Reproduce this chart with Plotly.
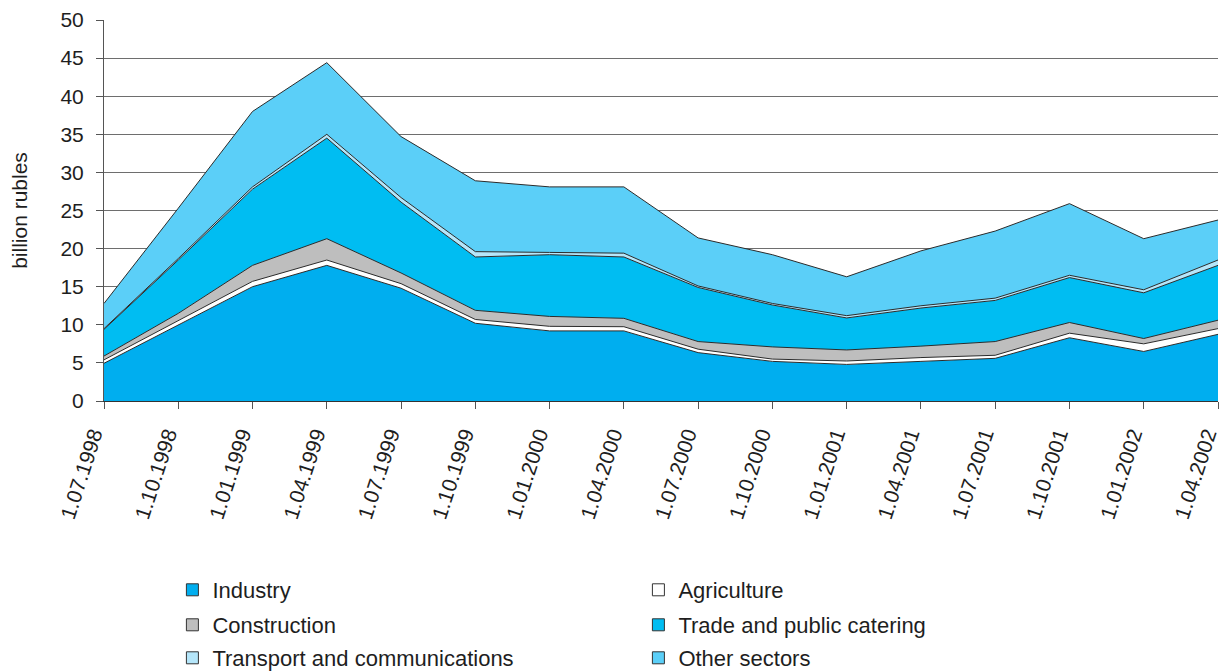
import plotly.graph_objects as go

dates = ["1.07.1998", "1.10.1998", "1.01.1999", "1.04.1999", "1.07.1999", "1.10.1999",
         "1.01.2000", "1.04.2000", "1.07.2000", "1.10.2000", "1.01.2001", "1.04.2001",
         "1.07.2001", "1.10.2001", "1.01.2002", "1.04.2002"]

industry = [4.95, 10.0, 15.0, 17.8, 14.8, 10.2, 9.2, 9.2, 6.35, 5.2, 4.8, 5.2, 5.6, 8.3, 6.5, 8.75]
agriculture = [0.45, 0.5, 0.7, 0.7, 0.6, 0.5, 0.6, 0.55, 0.45, 0.3, 0.45, 0.5, 0.4, 0.6, 1.0, 0.75]
construction = [0.5, 1.0, 2.1, 2.8, 1.4, 1.2, 1.3, 1.1, 1.0, 1.6, 1.45, 1.5, 1.8, 1.4, 0.7, 1.1]
trade = [3.5, 7.0, 10.0, 13.2, 9.3, 7.0, 8.1, 8.05, 7.1, 5.5, 4.2, 5.0, 5.4, 5.9, 6.0, 7.2]
transport = [0.1, 0.2, 0.3, 0.5, 0.6, 0.7, 0.3, 0.5, 0.2, 0.2, 0.3, 0.3, 0.3, 0.3, 0.4, 0.7]
other = [3.3, 6.6, 9.9, 9.4, 8.0, 9.3, 8.6, 8.7, 6.3, 6.4, 5.1, 7.2, 8.8, 9.4, 6.7, 5.25]

series = [
    ("Industry", industry, "#00AEEF", "legend"),
    ("Agriculture", agriculture, "#FFFFFF", "legend"),
    ("Construction", construction, "#BEBEBE", "legend2"),
    ("Trade and public catering", trade, "#00BDF2", "legend2"),
    ("Transport and communications", transport, "#B5E6FA", "legend3"),
    ("Other sectors", other, "#5BCFF8", "legend3"),
]

FONT = "Liberation Sans, Arial, sans-serif"
TXT = "#1e1e1e"
W, H = 1221, 664  # page body adds an 8 px offset

fig = go.Figure()
for name, vals, color, lg in series:
    fig.add_trace(go.Scatter(
        x=dates, y=vals, name=name, mode="lines", stackgroup="one",
        line=dict(color="#2b2b2b", width=1), fillcolor=color,
        showlegend=False, hoverinfo="skip",
    ))
    fig.add_trace(go.Bar(
        x=[None], y=[None], name=name,
        marker=dict(color=color, line=dict(color="#333333", width=1)),
        legend=lg, showlegend=True,
    ))

legend_common = dict(orientation="h", entrywidth=421, entrywidthmode="pixels",
                     font=dict(family=FONT, size=22, color=TXT),
                     bgcolor="rgba(0,0,0,0)", xanchor="left", yanchor="middle",
                     xref="container", yref="container",
                     itemwidth=30, traceorder="normal")

LX = 164.4 / W

fig.update_layout(
    width=W, height=H,
    margin=dict(l=96, r=11, t=12, b=271, autoexpand=False),
    paper_bgcolor="white", plot_bgcolor="white",
    font=dict(family=FONT, size=21, color=TXT),
    barmode="overlay",
    legend=dict(x=LX, y=1 - 582 / H, **legend_common),
    legend2=dict(x=LX, y=1 - 617 / H, **legend_common),
    legend3=dict(x=LX, y=1 - 650 / H, **legend_common),
    xaxis=dict(
        type="category", categoryorder="array", categoryarray=dates,
        range=[0, len(dates) - 1], tickangle=-72,
        ticks="outside", ticklen=7, tickcolor="#555555",
        showline=True, linecolor="#333333", linewidth=1,
        showgrid=False, automargin=False,
        ticklabelstandoff=5, ticklabelshift=-11,
        tickfont=dict(family=FONT, size=21, color=TXT),
    ),
    yaxis=dict(
        range=[0, 50], dtick=5, tick0=0,
        ticks="outside", ticklen=7, tickcolor="#555555",
        showline=True, linecolor="#555555", linewidth=1,
        showgrid=True, gridcolor="#6e6e6e", gridwidth=1,
        zeroline=False, automargin=False, ticklabelstandoff=8,
        title=dict(text="billion rubles", font=dict(family=FONT, size=21, color=TXT), standoff=30),
        tickfont=dict(family=FONT, size=21, color=TXT),
    ),
)

fig.write_html("out.html")
